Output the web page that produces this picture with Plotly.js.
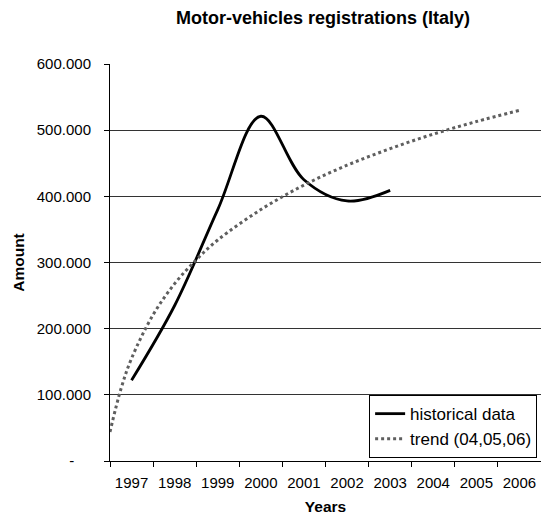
<!DOCTYPE html>
<html>
<head>
<meta charset="utf-8">
<script src="https://cdn.plot.ly/plotly-3.0.1.min.js"></script>
<style>
html, body { margin: 0; padding: 0; overflow: hidden; background: #fff; }
#chart { width: 541px; height: 515px; }
</style>
</head>
<body>
<div id="chart"></div>
<script>
// Categories (years) shown on the x axis
const years = ["1997", "1998", "1999", "2000", "2001", "2002", "2003", "2004", "2005", "2006"];

// Historical registrations (1997-2003)
const histYears = ["1997", "1998", "1999", "2000", "2001", "2002", "2003"];
const histValues = [122000, 235000, 380000, 521000, 425000, 393000, 409000];

// Trend curve (fractional year positions)
const trendYears = [1996.5, 1996.75, 1997, 1997.5, 1998, 1998.5, 1999, 2000, 2001, 2002, 2003, 2004, 2005, 2006];
const trendValues = [44000, 108000, 155000, 221000, 268000, 304000, 334000, 380000, 417000, 447000, 472000, 494000, 513000, 530000];

// Y axis ticks
const yTickVals = [0, 100000, 200000, 300000, 400000, 500000, 600000];
const yTickText = ["-\u00a0\u00a0\u00a0\u00a0", "100.000", "200.000", "300.000", "400.000", "500.000", "600.000"];

const FONT = "Liberation Sans, Arial, Helvetica, sans-serif";

const traces = [
  {
    type: "scatter", mode: "lines",
    x: histYears, y: histValues,
    name: "historical data",
    line: { color: "#000000", width: 2.8, shape: "spline", smoothing: 1 },
    xaxis: "x", yaxis: "y"
  },
  {
    type: "scatter", mode: "lines",
    x: trendYears, y: trendValues,
    name: "trend (04,05,06)",
    line: { color: "#5f5f5f", width: 3, dash: "dot", shape: "spline", smoothing: 1 },
    xaxis: "x2", yaxis: "y"
  }
];

const layout = {
  width: 541, height: 515,
  paper_bgcolor: "#ffffff", plot_bgcolor: "#ffffff",
  margin: { l: 110, r: 0, t: 64, b: 54, pad: 0 },
  font: { family: FONT, color: "#000000", size: 15 },
  showlegend: true,
  title: {
    text: "Motor-vehicles registrations (Italy)",
    font: { family: FONT, size: 18, weight: 700, color: "#000" },
    xref: "container", x: 0.597, xanchor: "center",
    yref: "container", y: 0.965, yanchor: "middle"
  },
  xaxis: {
    type: "category",
    categoryorder: "array", categoryarray: years,
    range: [-0.5, 9.5],
    tickson: "boundaries",
    ticks: "outside", ticklen: 5, tickwidth: 1, tickcolor: "#000",
    ticklabelstandoff: 8,
    showgrid: false, zeroline: false,
    showline: true, linecolor: "#000", linewidth: 1,
    tickfont: { family: FONT, size: 15, color: "#000" },
    title: { text: "Years", font: { family: FONT, size: 15.5, weight: 700, color: "#000" }, standoff: 11 },
    fixedrange: true
  },
  xaxis2: {
    type: "linear",
    overlaying: "x",
    anchor: "y",
    range: [1996.5, 2006.5],
    visible: false,
    fixedrange: true
  },
  yaxis: {
    range: [0, 600000],
    tickmode: "array", tickvals: yTickVals, ticktext: yTickText,
    ticks: "outside", ticklen: 5, tickwidth: 1, tickcolor: "#000",
    ticklabelstandoff: 10,
    showgrid: true, gridcolor: "#333333", gridwidth: 1,
    zeroline: false,
    showline: true, linecolor: "#000", linewidth: 1,
    tickfont: { family: FONT, size: 15, color: "#000" },
    title: { text: "Amount", font: { family: FONT, size: 15.5, weight: 700, color: "#000" }, standoff: 8 },
    fixedrange: true
  },
  legend: {
    x: 0.991, xanchor: "right",
    y: 0.166, yanchor: "top",
    bgcolor: "#ffffff", bordercolor: "#000000", borderwidth: 1,
    font: { family: FONT, size: 17, color: "#000" },
    traceorder: "normal",
    tracegroupgap: 0
  }
};

Plotly.newPlot("chart", traces, layout, { displayModeBar: false, staticPlot: true });
</script>
</body>
</html>
